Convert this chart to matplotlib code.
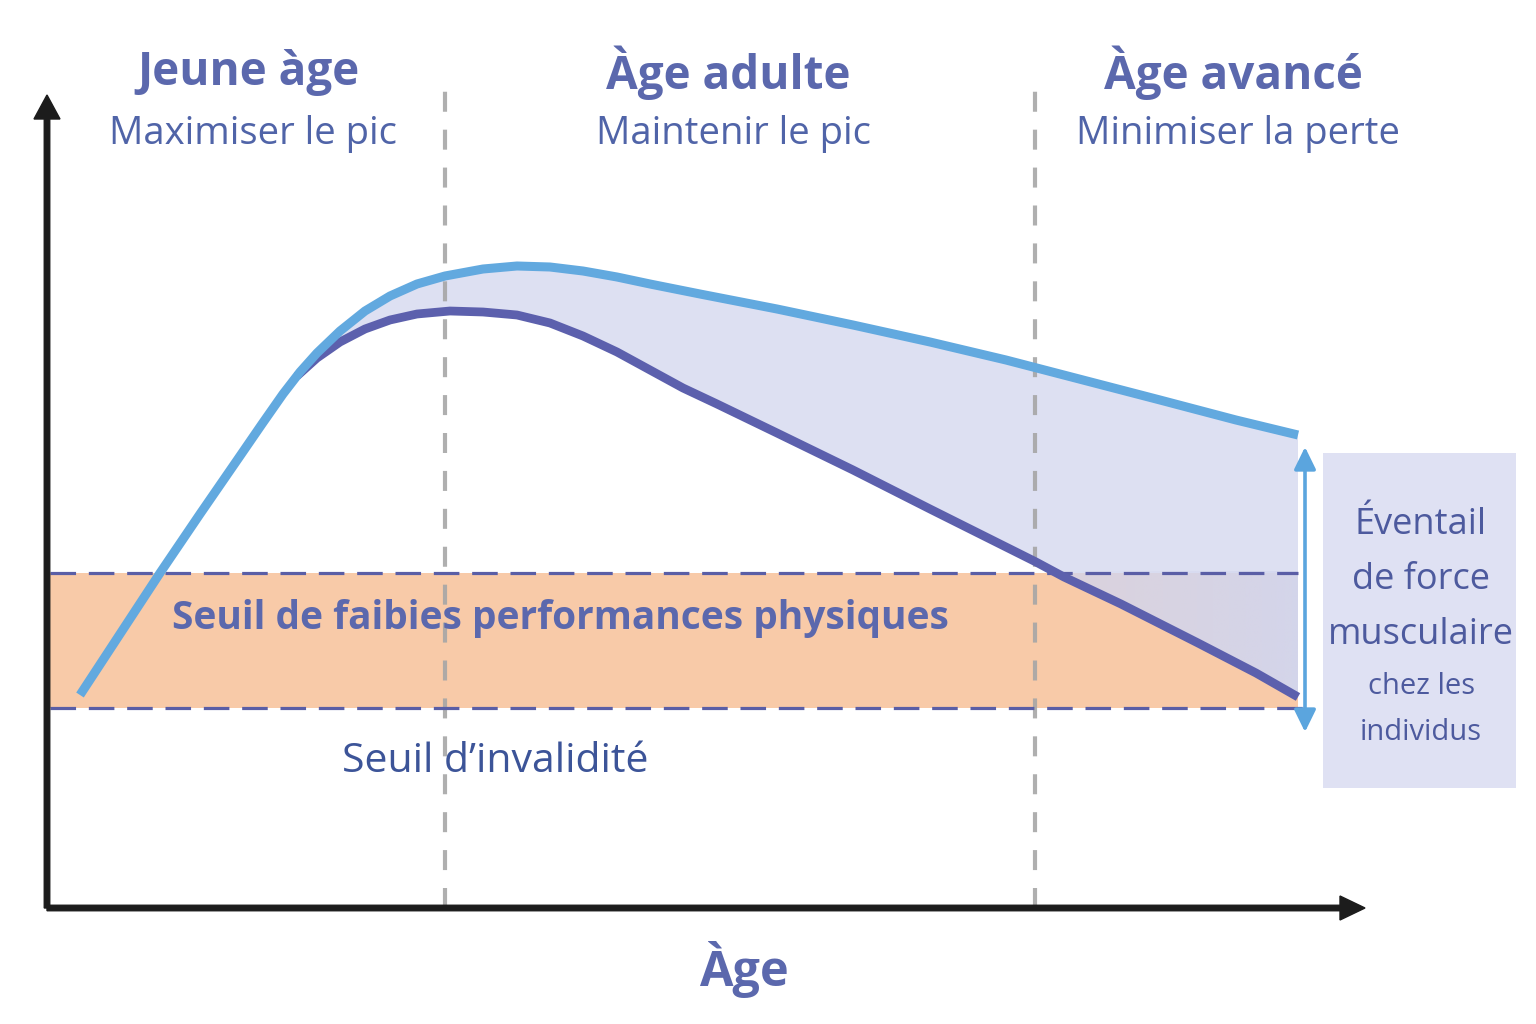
import numpy as np
import matplotlib
matplotlib.use("Agg")
import matplotlib.pyplot as plt
from matplotlib.patches import Rectangle, Polygon
from matplotlib.colors import to_rgb

plt.rcParams['font.family'] = ['Open Sans', 'DejaVu Sans']

# ---- data (arbitrary units: age on x, muscular strength on y) ----
upper_age = [3.3, 7.3, 11.3, 15.3, 19.3, 21.5, 23.6, 25.3, 27.0, 29.3, 31.8, 34.3, 37.0, 39.8,
             43.6, 47.0, 50.3, 53.6, 57.0, 60.3, 65.3, 73.0, 80.6, 88.3, 95.9, 103.6,
             111.3, 118.9, 125.1]
upper_strength = [21.3, 27.4, 33.5, 39.4, 45.2, 48.4, 51.4, 53.6, 55.5, 57.7, 59.7, 61.2, 62.4, 63.2,
                  63.9, 64.2, 64.1, 63.7, 63.1, 62.4, 61.4, 59.9, 58.3, 56.6, 54.8, 52.8,
                  50.8, 48.8, 47.3]

lower_age = [25.0, 27.0, 29.3, 31.8, 34.3, 37.0, 40.3, 43.6, 47.0, 50.3, 53.6, 57.0, 60.3,
             63.6, 67.0, 73.0, 80.6, 88.3, 95.9, 98.9, 101.7, 107.4, 115.1, 120.9, 125.1]
lower_strength = [53.2, 55.0, 56.6, 57.9, 58.8, 59.4, 59.7, 59.6, 59.3, 58.5, 57.2, 55.6, 53.8,
                  52.0, 50.4, 47.5, 43.8, 39.9, 36.1, 34.6, 33.1, 30.4, 26.5, 23.5, 21.1]

low_perf_threshold = 33.5
disability_threshold = 20.0
phase_bounds = [39.8, 98.8]
phase_titles = ["Jeune àge", "Àge adulte", "Àge avancé"]
phase_goals = ["Maximiser le pic", "Maintenir le pic", "Minimiser la perte"]
phase_centers = [20.1, 68.1, 118.6]
range_lines = ["Éventail", "de force", "musculaire", "chez les", "individus"]

# ---- colors ----
C_LIGHT = '#62A9DF'
C_DARK = '#5C60AD'
C_FILL = '#D2D6EE'
C_BAND = '#F8CAA8'
C_TITLE = '#5B68AD'
C_SUB = '#5064A8'
C_DASH = '#5A5EA6'
C_GRAY = '#A6A6A6'

fig = plt.figure(figsize=(15.36, 10.24), dpi=100)
ax = fig.add_axes([0, 0, 1, 1])
ax.axis('off')

x_end = upper_age[-1]

# orange band
ax.fill_between([0.3, x_end], disability_threshold, low_perf_threshold,
                color=C_BAND, lw=0, zorder=1)

# lavender area between the two curves
ua = np.array(upper_age); us = np.array(upper_strength)
mask = ua >= lower_age[0]
poly_x = np.concatenate([lower_age, ua[mask][::-1]])
poly_y = np.concatenate([lower_strength, us[mask][::-1]])
ax.fill(poly_x, poly_y, color=C_FILL, alpha=0.75, lw=0, zorder=2)

# extra lavender tint fading in towards the right inside the band
clip = Polygon(np.column_stack([poly_x, poly_y]), closed=True,
               facecolor='none', edgecolor='none')
ax.add_patch(clip)
rgba = np.zeros((1, 256, 4))
rgba[..., :3] = to_rgb(C_FILL)
rgba[..., 3] = 0.8 * np.linspace(0, 1, 256) ** 1.2
im = ax.imshow(rgba, extent=[phase_bounds[1], x_end, disability_threshold, low_perf_threshold + 0.2],
               aspect='auto', interpolation='bilinear', zorder=2.5)
im.set_clip_path(clip)

ax.set_xlim(-4.7, 148.9)
ax.set_ylim(-11.6, 90.8)

# vertical phase separators
for xb in phase_bounds:
    ax.plot([xb, xb], [0, 83.0], color=C_GRAY, lw=3, dashes=(4.8, 4.3),
            alpha=0.9, zorder=3, solid_capstyle='butt')

# horizontal thresholds
ax.plot([0.3, x_end], [low_perf_threshold] * 2, color=C_DASH, lw=2.3,
        dashes=(8, 4), zorder=4)
ax.plot([0.3, x_end + 1.6], [disability_threshold] * 2, color=C_DASH, lw=2.3,
        dashes=(8, 4), zorder=4)

# curves
ax.plot(lower_age, lower_strength, color=C_DARK, lw=6.3, zorder=5,
        solid_capstyle='butt', solid_joinstyle='round')
ax.plot(upper_age, upper_strength, color=C_LIGHT, lw=6.5, zorder=6,
        solid_capstyle='butt', solid_joinstyle='round')

# axes arrows
ax.arrow(0, 0, 0, 81.3, width=0.55, head_width=2.6, head_length=2.4,
         length_includes_head=True, color='#1C1C1C', zorder=7)
ax.arrow(0, 0, 131.8, 0, width=0.55, head_width=2.4, head_length=2.5,
         length_includes_head=True, color='#1C1C1C', zorder=7)

# range double arrow
ax.annotate('', xy=(125.8, 46.1), xytext=(125.8, 17.6),
            arrowprops=dict(arrowstyle='<|-|>,head_length=0.45,head_width=0.22',
                            mutation_scale=30, lw=2.6, color='#5BA5DE',
                            shrinkA=0, shrinkB=0), zorder=8)

# box
ax.add_patch(Rectangle((127.6, 12.0), 19.3, 33.5, facecolor='#DFE1F3',
                       edgecolor='none', zorder=2))
box_y = [38.3, 32.8, 27.3, 22.2, 17.6]
box_size = [26, 26, 26, 21, 21]
for t, yy, s in zip(range_lines, box_y, box_size):
    ax.text(137.4, yy, t, ha='center', va='center', fontsize=s, color='#4D5A9E', zorder=9)

# phase titles
for cx, title, goal in zip(phase_centers, phase_titles, phase_goals):
    ax.text(cx, 83.5, title, ha='center', va='center', fontsize=33,
            fontweight='bold', color=C_TITLE)
    ax.text(cx + 0.5, 77.4, goal, ha='center', va='center', fontsize=27.5, color=C_SUB)

ax.text(12.5, 29.0, "Seuil de faibies performances physiques", ha='left', va='center',
        fontsize=28, fontweight='bold', color=C_TITLE, zorder=9)
ax.text(44.8, 14.6, "Seuil d\u2019invalidité", ha='center', va='center',
        fontsize=29.5, color='#3C5498', zorder=9)
ax.text(69.7, -6.1, "Àge", ha='center', va='center', fontsize=35,
        fontweight='bold', color=C_TITLE)

fig.savefig('out.png', dpi=100, facecolor='white')
